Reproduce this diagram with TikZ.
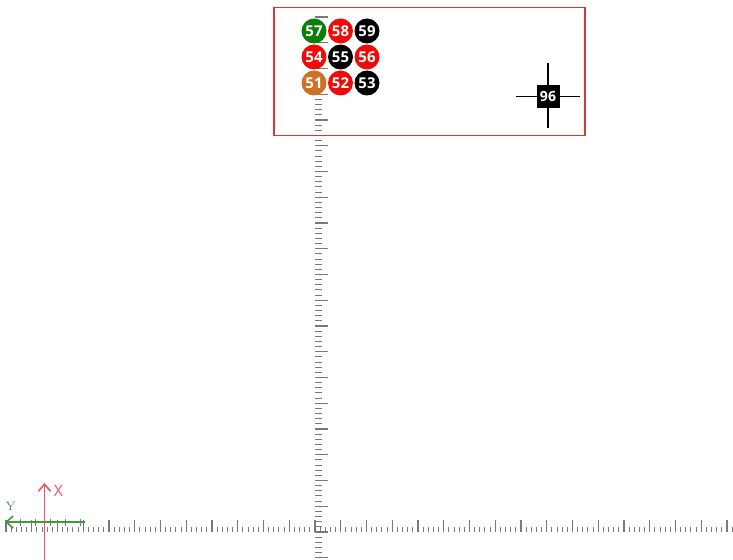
\documentclass[tikz,border=0pt]{standalone}
\usepackage{fontspec}
\setsansfont{Open Sans}
\usepackage{tikz}
\usetikzlibrary{arrows.meta}
\definecolor{ballgreen}{RGB}{10,128,10}
\definecolor{ballred}{RGB}{240,10,10}
\definecolor{ballblack}{RGB}{0,0,0}
\definecolor{ballorange}{RGB}{205,112,40}
\definecolor{rulergray}{RGB}{120,120,120}
\definecolor{framered}{RGB}{215,55,55}
\definecolor{axisgreen}{RGB}{70,150,70}
\definecolor{axisred}{RGB}{235,85,95}

\tikzset{
    ball/.style={circle, fill=#1, text=white, inner sep=0pt, minimum size=0.5cm,
        font=\sffamily\bfseries\fontsize{8.5}{10}\selectfont},
    tickline/.style={rulergray, line width=0.6pt},
    marker/.style={fill=black, text=white, inner sep=0pt, minimum size=0.46cm,
        font=\sffamily\bfseries\fontsize{8}{10}\selectfont}
}

\begin{document}
\begin{tikzpicture}[x=0.02cm, y=-0.02cm]
    \useasboundingbox (0,0) rectangle (733,560);

    % Horizontal ruler
    \foreach \i in {-60,...,81}
        \draw[tickline] ({315+5.15*\i},532) -- ++(0,-5.5);
    \foreach \i in {-12,...,16}
        \draw[tickline] ({315+25.75*\i},532) -- ++(0,-12);

    % Vertical ruler
    \foreach \i in {-5,...,100}
        \draw[tickline] (315,{532-5.15*\i}) -- ++(7,0);
    \foreach \i in {-1,...,20}
        \draw[tickline] (315,{532-25.75*\i}) -- ++(13,0);

    % Frame
    \draw[framered, line width=0.7pt] (274,7.5) rectangle (585,135.5);

    % Balls
    \node[ball=ballgreen]  (b57) at (314,31) {57};
    \node[ball=ballred]    (b58) at (340.5,31) {58};
    \node[ball=ballblack]  (b59) at (367,31) {59};
    \node[ball=ballred]    (b54) at (314,57) {54};
    \node[ball=ballblack]  (b55) at (340.5,57) {55};
    \node[ball=ballred]    (b56) at (367,57) {56};
    \node[ball=ballorange] (b51) at (314,83) {51};
    \node[ball=ballred]    (b52) at (340.5,83) {52};
    \node[ball=ballblack]  (b53) at (367,83) {53};

    % Crosshair marker
    \coordinate (cw) at (516,96.5);
    \coordinate (ce) at (580,96.5);
    \coordinate (cn) at (548,63);
    \coordinate (cs) at (548,128.5);
    \draw[line width=0.9pt] (cw) -- (ce);
    \draw[line width=0.9pt] (cn) -- (cs);
    \node[marker] (m96) at (548,96.5) {96};

    % Axis icon
    \coordinate (xfoot) at (44.5,560);
    \coordinate (xtip) at (44.5,483);
    \draw[axisred, line width=0.9pt, -{Straight Barb[length=4pt, width=7pt]}] (xfoot) -- (xtip);
    \node[axisred, font=\sffamily\fontsize{9}{10}\selectfont] (xlabel) at (58.5,491) {X};

    \coordinate (ytail) at (85,522);
    \coordinate (ytip) at (5,522);
    \draw[axisgreen, line width=0.9pt, -{Straight Barb[length=4pt, width=7pt]}] (ytail) -- (ytip);
    \foreach \x in {20,35,50,65,80}
        \draw[axisgreen, line width=0.5pt] (\x,518.5) -- (\x,525.5);
    \node[axisgreen!70!gray, font=\fontsize{7}{8}\selectfont] (ylabel) at (10.5,506) {Y};
\end{tikzpicture}
\end{document}
